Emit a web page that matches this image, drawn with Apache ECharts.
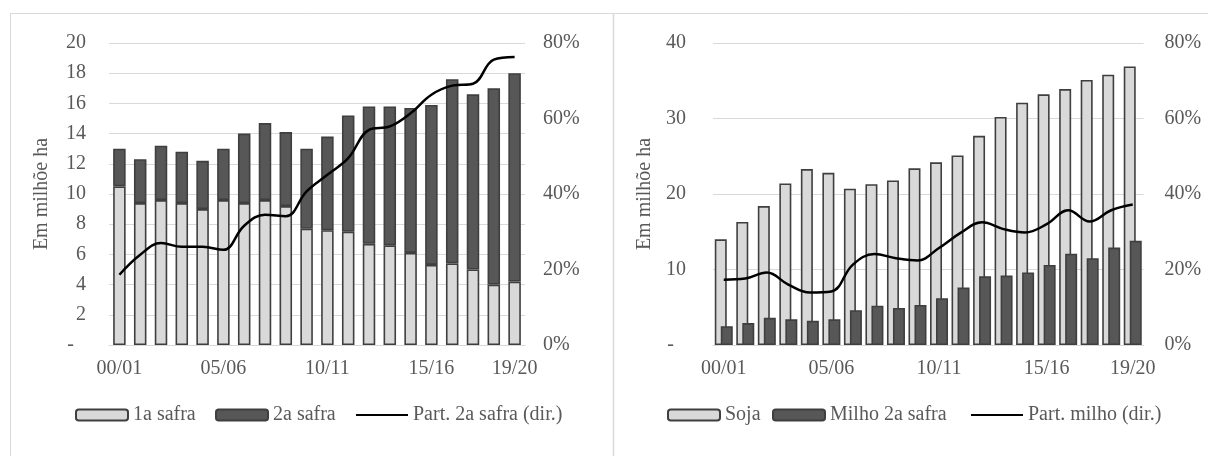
<!DOCTYPE html>
<html>
<head>
<meta charset="utf-8">
<script src="https://cdn.jsdelivr.net/npm/echarts@6/dist/echarts.min.js"></script>
<style>
  html, body { margin: 0; padding: 0; background: #ffffff; }
  #chart { width: 1208px; height: 456px; }
</style>
</head>
<body>
<div id="chart"></div>
<script>
// Safras (harvest years)
const safras = ['00/01','01/02','02/03','03/04','04/05','05/06','06/07','07/08','08/09','09/10',
                '10/11','11/12','12/13','13/14','14/15','15/16','16/17','17/18','18/19','19/20'];

// Left panel: milho area by harvest, million ha
const primeiraSafra = [10.5, 9.4, 9.6, 9.4, 9.0, 9.6, 9.4, 9.6, 9.2, 7.7, 7.6, 7.5, 6.7, 6.6, 6.1, 5.3, 5.4, 5.0, 4.0, 4.2];
const segundaSafra  = [2.5, 2.9, 3.6, 3.4, 3.2, 3.4, 4.6, 5.1, 4.9, 5.3, 6.2, 7.7, 9.1, 9.2, 9.6, 10.6, 12.2, 11.6, 13.0, 13.8];
// share of 2a safra in total, %
const partSegunda   = [18.6, 23.9, 27.0, 26.0, 26.0, 25.2, 31.6, 34.5, 34.1, 40.7, 45.1, 49.5, 57.0, 57.9, 61.4, 66.3, 68.7, 69.2, 75.6, 76.3];

// Right panel: soja vs milho 2a safra, million ha
const soja     = [14.0, 16.3, 18.4, 21.4, 23.3, 22.8, 20.7, 21.3, 21.8, 23.4, 24.2, 25.1, 27.7, 30.2, 32.1, 33.2, 33.9, 35.1, 35.8, 36.9];
const milho2   = [2.5, 2.9, 3.6, 3.4, 3.2, 3.4, 4.6, 5.2, 4.9, 5.3, 6.2, 7.6, 9.1, 9.2, 9.6, 10.6, 12.1, 11.5, 12.9, 13.8];
// milho 2a safra area relative to soja, %
const partMilho = [17.3, 17.6, 19.2, 16.0, 13.9, 14.2, 21.3, 24.1, 23.0, 22.4, 25.7, 29.7, 32.5, 30.7, 29.8, 32.0, 35.7, 32.7, 35.7, 37.2];

const FONT = 'Liberation Serif';
const TXT = '#595959';
const GRID = '#d9d9d9';
const LIGHT = '#d9d9d9';
const DARK = '#575757';
const EDGE = '#3f3f3f';

const labelEvery = (idx) => idx % 5 === 0 || idx === safras.length - 1;

function catAxis(gridIndex) {
  return {
    type: 'category', gridIndex, data: safras,
    axisLine: { lineStyle: { color: GRID, width: 1 } },
    axisTick: { show: false },
    axisLabel: { interval: labelEvery, color: TXT, fontFamily: FONT, fontSize: 20, margin: 14 }
  };
}

function leftValueAxis(gridIndex, max, interval, nameGap, margin) {
  return {
    type: 'value', gridIndex, min: 0, max, interval, position: 'left',
    name: 'Em milhõe ha', nameLocation: 'middle', nameGap,
    nameTextStyle: { color: TXT, fontFamily: FONT, fontSize: 20 },
    axisLine: { show: false }, axisTick: { show: false },
    splitLine: { lineStyle: { color: GRID, width: 1 } },
    axisLabel: {
      color: TXT, fontFamily: FONT, fontSize: 20, margin,
      formatter: (v) => v === 0 ? '{z|-}' : String(v),
      rich: { z: { color: TXT, fontFamily: FONT, fontSize: 20, padding: [0, 12, 0, 0] } }
    }
  };
}

function pctAxis(gridIndex, margin) {
  return {
    type: 'value', gridIndex, min: 0, max: 80, interval: 20, position: 'right',
    axisLine: { show: false }, axisTick: { show: false }, splitLine: { show: false },
    axisLabel: { color: TXT, fontFamily: FONT, fontSize: 20, margin, formatter: '{value}%' }
  };
}

const barStyle = (fill) => ({ color: fill, borderColor: EDGE, borderWidth: 1.6 });

// one legend entry per component so each key sits at its own spot
function legendEntry(name, left, isLine) {
  const item = isLine ? { name, itemStyle: { opacity: 0 } } : { name };
  return {
    left, top: 405, padding: 0, itemWidth: 52, itemHeight: 11, itemGap: 0,
    textStyle: { color: TXT, fontFamily: FONT, fontSize: 20 },
    data: [item]
  };
}

const option = {
  animation: false,
  backgroundColor: '#ffffff',
  textStyle: { fontFamily: FONT },
  grid: [
    { left: 109, right: 683, top: 43, bottom: 111 },
    { left: 713, right: 64.5, top: 43, bottom: 111 }
  ],
  xAxis: [catAxis(0), catAxis(1)],
  yAxis: [
    leftValueAxis(0, 20, 2, 57, 23),
    pctAxis(0, 18),
    leftValueAxis(1, 40, 10, 58, 27),
    pctAxis(1, 21)
  ],
  legend: [
    legendEntry('1a safra', 75, false),
    legendEntry('2a safra', 215, false),
    legendEntry('Part. 2a safra (dir.)', 355, true),
    legendEntry('Soja', 667, false),
    legendEntry('Milho 2a safra', 772, false),
    legendEntry('Part. milho (dir.)', 970, true)
  ],
  graphic: [
    { type: 'line', silent: true, shape: { x1: 10, y1: 13.5, x2: 1208, y2: 13.5 }, style: { stroke: GRID, lineWidth: 1 } },
    { type: 'line', silent: true, shape: { x1: 10.5, y1: 13, x2: 10.5, y2: 456 }, style: { stroke: GRID, lineWidth: 1 } },
    { type: 'line', silent: true, shape: { x1: 613.5, y1: 13, x2: 613.5, y2: 456 }, style: { stroke: GRID, lineWidth: 1.5 } }
  ],
  series: [
    {
      name: '1a safra', type: 'bar', xAxisIndex: 0, yAxisIndex: 0, stack: 'area',
      barWidth: 12.5, data: primeiraSafra, itemStyle: barStyle(LIGHT)
    },
    {
      name: '2a safra', type: 'bar', xAxisIndex: 0, yAxisIndex: 0, stack: 'area',
      barWidth: 12.5, data: segundaSafra, itemStyle: barStyle(DARK)
    },
    {
      name: 'Part. 2a safra (dir.)', type: 'line', xAxisIndex: 0, yAxisIndex: 1,
      data: partSegunda, smooth: 0.4, symbol: 'none', z: 5,
      lineStyle: { color: '#000000', width: 2.5 }, itemStyle: { color: '#000000' }
    },
    {
      name: 'Soja', type: 'bar', xAxisIndex: 1, yAxisIndex: 2,
      barWidth: 12, barGap: '-50%', data: soja, itemStyle: barStyle(LIGHT)
    },
    {
      name: 'Milho 2a safra', type: 'bar', xAxisIndex: 1, yAxisIndex: 2,
      barWidth: 12, barGap: '-50%', data: milho2, itemStyle: barStyle(DARK)
    },
    {
      name: 'Part. milho (dir.)', type: 'line', xAxisIndex: 1, yAxisIndex: 3,
      data: partMilho, smooth: 0.4, symbol: 'none', z: 5,
      lineStyle: { color: '#000000', width: 2.5 }, itemStyle: { color: '#000000' }
    }
  ]
};

const chart = echarts.init(document.getElementById('chart'), null, { renderer: 'canvas' });
chart.setOption(option);
</script>
</body>
</html>
